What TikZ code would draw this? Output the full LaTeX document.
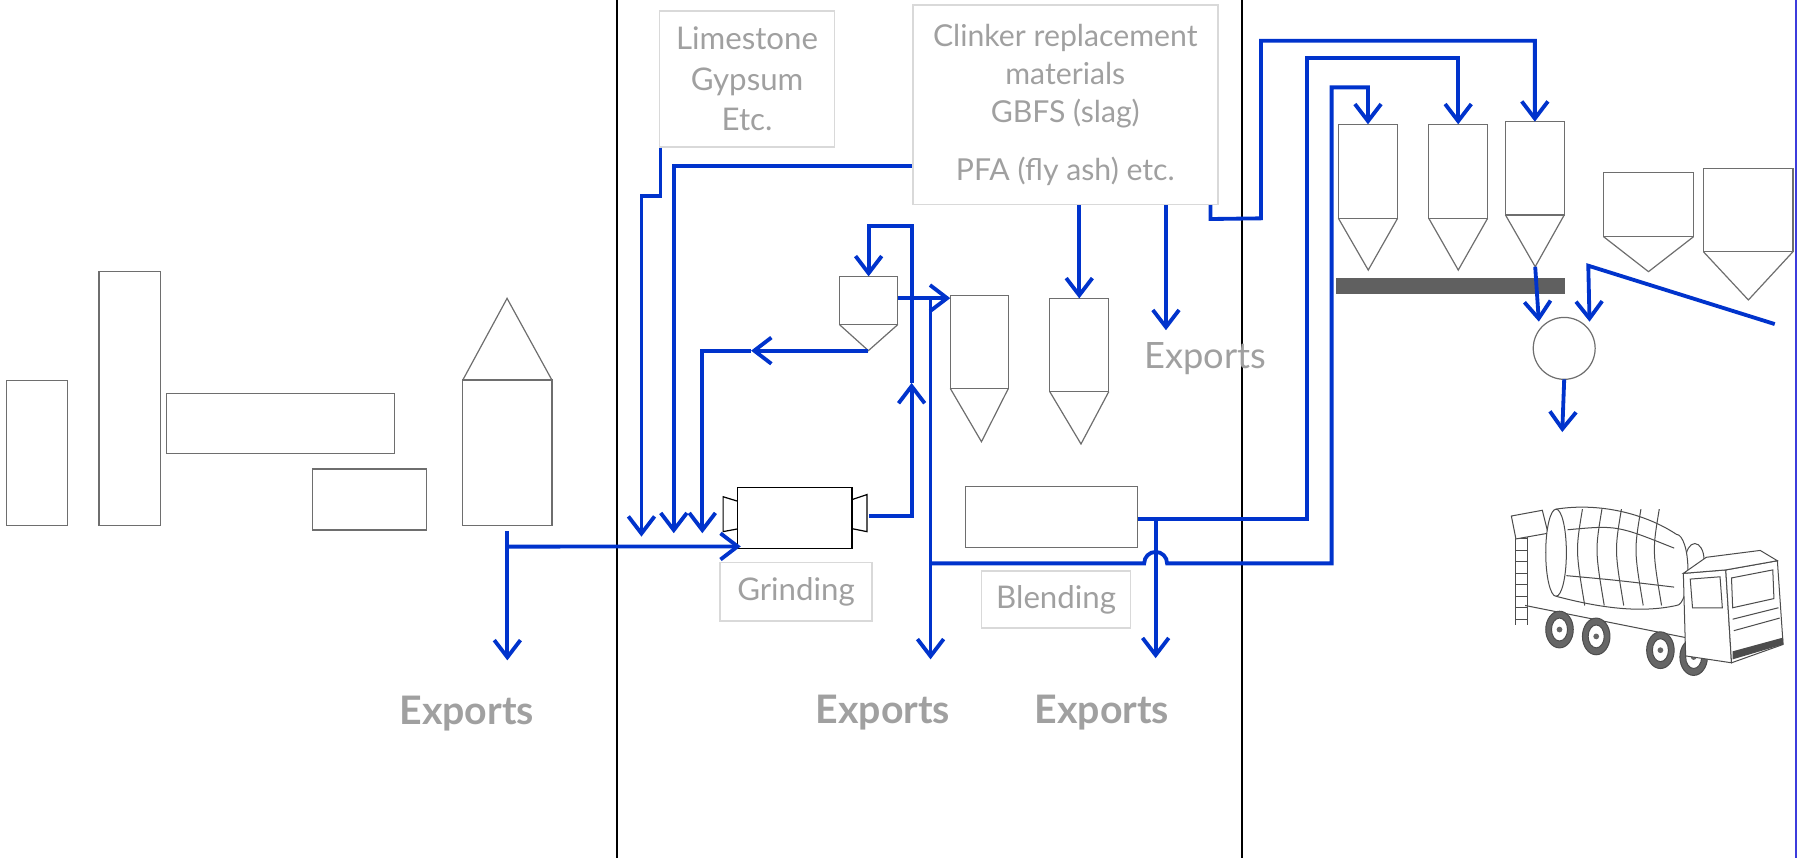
\documentclass[tikz,border=0pt]{standalone}
\usepackage{fontspec}
\setmainfont{Lato}
\usetikzlibrary{arrows.meta,fit}
\definecolor{flowblue}{RGB}{0,51,204}
\definecolor{unitgray}{RGB}{110,110,110}
\definecolor{boxgray}{RGB}{217,217,217}
\definecolor{txtgray}{RGB}{160,160,160}
\definecolor{bargray}{RGB}{96,96,96}
\definecolor{edgeblue}{RGB}{60,60,220}

\begin{document}
\begin{tikzpicture}[x=0.02cm,y=-0.02cm,
    unit/.style={draw=unitgray,line width=0.6pt,inner sep=0pt,outer sep=0pt},
    shell/.style={draw=unitgray,line width=0.6pt},
    flow/.style={draw=flowblue,line width=1.9pt,-{Straight Barb[length=8.5pt,width=13pt]}},
    lbl/.style={draw=boxgray,line width=0.8pt,text=txtgray,align=center,inner sep=0pt,
      font=\fontsize{15.5}{20}\selectfont},
    exportlbl/.style={text=txtgray,font=\fontsize{19.5}{22}\selectfont\bfseries},
    divider/.style={draw=black,line width=1pt}]
    \useasboundingbox (0,0) rectangle (1568,748);

    \draw[divider] (538,0) -- (538,748);
    \draw[divider] (1083,0) -- (1083,748);
    \draw[edgeblue,line width=0.8pt] (1566.5,0) -- (1566.5,748);

    % clinker production
    \node[unit,fit={(5.9,331.7)(58.7,458.4)}] (rawmill) {};
    \node[unit,fit={(86.3,236.9)(139.8,458.4)}] (preheater) {};
    \node[unit,fit={(145.4,343)(344.2,395.3)}] (kiln) {};
    \node[unit,fit={(272.7,409)(372.2,462.2)}] (cooler) {};
    \node[unit,fit={(403.6,331.4)(481.3,458.4)}] (store) {};
    \draw[shell] (store.north west) -- (442.2,260.2) -- (store.north east);

    % labels
    \node[lbl,minimum width=3.05cm,minimum height=2.37cm] (additives) at (651.5,68.8)
         {Limestone\\Gypsum\\Etc.};
    \node[lbl,minimum width=5.32cm,minimum height=3.48cm,
          font=\fontsize{15}{19}\selectfont] (scm) at (929,91.3)
         {Clinker replacement\\materials\\GBFS (slag)\\[0.33cm]PFA (fly ash) etc.};
    \node[lbl,minimum width=2.66cm,minimum height=1.02cm] (grindlbl) at (694.2,515.9) {Grinding};
    \node[lbl,minimum width=2.6cm,minimum height=1.0cm] (blendlbl) at (921,522.9) {Blending};
    \node[exportlbl] (exp1) at (407,622) {Exports};
    \node[exportlbl] (exp2) at (770,621) {Exports};
    \node[exportlbl] (exp3) at (961,621) {Exports};
    \node[text=txtgray,font=\fontsize{18}{22}\selectfont] (exp4) at (1051,313) {Exports};

    % grinding and blending
    \node[unit,draw=black,fit={(643,425)(743,478)}] (mill) {};
    \draw[black,line width=0.6pt] (643,437) -- (630.6,433.2) -- (630.6,463.6) -- (643,461.3);
    \draw[black,line width=0.6pt] (743,435.7) -- (756,431.3) -- (756,463.6) -- (743,461);
    \node[unit,fit={(732,241)(783,283)}] (sep) {};
    \draw[shell] (sep.south west) -- (757.3,305.8) coordinate (sepcone) -- (sep.south east);
    \node[unit,fit={(828.7,257.9)(879.4,338.7)}] (silo1) {};
    \draw[shell] (silo1.south west) -- (855.9,385.2) -- (silo1.south east);
    \node[unit,fit={(915.5,260.2)(966.9,341.6)}] (silo2) {};
    \draw[shell] (silo2.south west) -- (942.7,387.2) -- (silo2.south east);
    \node[unit,fit={(841.8,424.4)(992.2,477.3)}] (blender) {};

    % concrete plant
    \node[unit,fit={(1167.2,108.4)(1218.8,190.4)}] (r1) {};
    \draw[shell] (r1.south west) -- (1193.2,235.5) -- (r1.south east);
    \node[unit,fit={(1246,108.4)(1297.3,190.4)}] (r2) {};
    \draw[shell] (r2.south west) -- (1271.7,235.5) -- (r2.south east);
    \node[unit,fit={(1312.9,106.1)(1364.1,187.5)}] (r3) {};
    \draw[shell] (r3.south west) -- (1338.8,232.6) coordinate (r3cone) -- (r3.south east);
    \node[unit,fit={(1398.4,150.6)(1476.9,206.4)}] (r4) {};
    \draw[shell] (r4.south west) -- (1437.6,236.9) -- (r4.south east);
    \node[unit,fit={(1485.5,147.1)(1563.6,219.5)}] (r5) {};
    \draw[shell] (r5.south west) -- (1524.7,261.6) -- (r5.south east);
    \fill[bargray] (1165.3,242.7) rectangle (1364.8,256.7);
    \node[unit,circle,minimum size=1.08cm] (mixer) at (1364.1,303.8) {};
    \coordinate (belt) at (1547.7,282.6);

    % flows
    \coordinate (split) at (442.2,476.7);
    \draw[flow] ([yshift=-0.09cm]store.south) -- ++(0,113);
    \draw[flow] (split) -- ([xshift=0.06cm,yshift=0.03cm]mill.south west);
    \draw[flow] ([xshift=0.03cm]additives.south west) -- ++(0,42) -| (559.4,468);
    \draw[flow] (scm.west |- 0,144.5) -| (587.6,465);
    \draw[flow] (sepcone) -- (655,305.8);
    \draw[flow] (655,305.8) -| (612.5,465);
    \coordinate (millout) at (758,450);
    \draw[flow] (millout) -- (795,450) -- (795,334);
    \draw[flow] (795,334) -- (795,197) -| (sep.north);
    \draw[flow] (sep.east |- 0,260) -- (silo1.west |- 0,260);
    \draw[flow] (811.5,260) -- (811.5,575);
    \draw[flow] (scm.south -| silo2.north) -- (silo2.north);
    \draw[flow] (scm.south -| 1016.8,0) -- ++(0,109);
    \draw[flow] ([xshift=-0.14cm]scm.south east) -- ++(0,12) -- (1099.7,190.4)
        |- (r3.north |- 0,35.5) -- (r3.north);
    \draw[flow] (blender.east |- 0,452.6) -- (1139.6,452.6) |- (r2.north |- 0,50.9) -- (r2.north);
    \draw[flow] (1007.8,452.6) -- (1007.8,574);
    \draw[flow] (811.5,491.3) -- (997.8,491.3) arc[start angle=180,end angle=360,radius=10]
        -- (1161.3,491.3) |- (r1.north |- 0,76.2) -- (r1.north);
    \draw[flow] (r3cone) -- (mixer.145 |- 0,280.5);
    \draw[flow] (belt) -- (1385.1,231.7) -- (mixer.35 |- 0,280.5);
    \draw[flow] (mixer.south) -- ++(-1.7,46);

    % truck
    \begin{scope}[draw=black!70,line width=0.5pt]
      \draw (1330,528) -- (1470,556);
      \foreach \x/\y in {1360/549,1392/555,1448/567,1477/573}{
        \draw[fill=black!60] (\x,\y) ellipse[x radius=12,y radius=16];
        \draw[fill=white] (\x,\y) ellipse[x radius=7,y radius=10];
        \fill[black!60] (\x,\y) circle[radius=2.5];
      }
      \draw (1322,452) -- (1322,545) (1332,452) -- (1332,545);
      \foreach \y in {460,470,...,540} \draw (1322,\y) -- (1332,\y);
      \draw[fill=white] (1318,450) -- (1345,445) -- (1350,465) -- (1322,470) -- cycle;
      \draw[fill=white] (1478,488) ellipse[x radius=8,y radius=14];
      \draw[fill=white] (1357,444) .. controls (1395,438) and (1435,448) .. (1462,466)
        arc[start angle=-90,end angle=90,x radius=10,y radius=31]
        .. controls (1430,535) and (1395,530) .. (1357,520)
        arc[start angle=90,end angle=270,x radius=9,y radius=38] -- cycle;
      \draw (1357,444) arc[start angle=-90,end angle=90,x radius=9,y radius=38];
      \foreach \x in {1380,1397,1414,1431,1447}
        \draw (\x,444) .. controls (\x-6,480) .. (\x+2,528);
      \draw (1367,462) .. controls (1410,458) .. (1460,478);
      \draw (1366,502) .. controls (1410,506) .. (1460,512);
      \draw[fill=white] (1468,500) -- (1505,497) -- (1510,578) -- (1470,572) -- cycle;
      \draw[fill=white] (1505,497) -- (1550,489) -- (1555,562) -- (1510,578) -- cycle;
      \draw[fill=white] (1468,500) -- (1488,486) -- (1535,480) -- (1550,489) -- (1505,497) -- cycle;
      \draw (1474,505) -- (1500,503) -- (1502,530) -- (1476,530) -- cycle;
      \draw (1510,504) -- (1546,497) -- (1547,522) -- (1511,530) -- cycle;
      \draw (1511,540) -- (1551,530) (1512,550) -- (1552,539);
      \fill[black!70] (1511,568) -- (1555,556) -- (1555,562) -- (1511,575) -- cycle;
    \end{scope}
\end{tikzpicture}
\end{document}
